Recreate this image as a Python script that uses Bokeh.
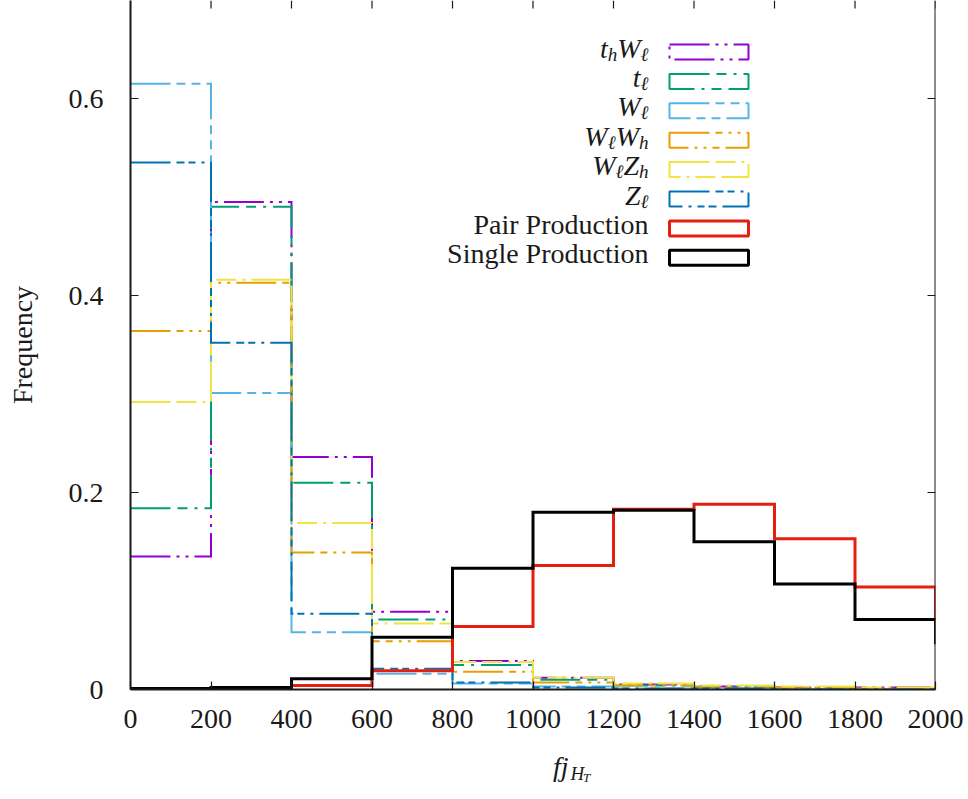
from bokeh.plotting import figure
from bokeh.layouts import column
from bokeh.models import Range1d, FixedTicker, Label, BoxAnnotation, Span
from bokeh.embed import file_html
from bokeh.resources import INLINE

# ---------------- data (bin lower edges; last point = 2000-2200 bin) ----------------
bin_edges = [0, 200, 400, 600, 800, 1000, 1200, 1400, 1600, 1800, 2000]
thWl = [0.135, 0.495, 0.236, 0.079, 0.029, 0.012, 0.005, 0.003, 0.002, 0.002, 0.001]
tl   = [0.184, 0.490, 0.210, 0.071, 0.025, 0.010, 0.004, 0.002, 0.001, 0.001, 0.001]
Wl   = [0.615, 0.301, 0.058, 0.016, 0.006, 0.003, 0.001, 0.001, 0.000, 0.000, 0.000]
WlWh = [0.364, 0.413, 0.139, 0.049, 0.018, 0.007, 0.004, 0.003, 0.002, 0.001, 0.001]
WlZh = [0.292, 0.416, 0.169, 0.067, 0.028, 0.012, 0.006, 0.004, 0.003, 0.002, 0.001]
Zl   = [0.535, 0.352, 0.077, 0.021, 0.007, 0.002, 0.001, 0.001, 0.000, 0.000, 0.000]
pair   = [0.000, 0.000, 0.004, 0.019, 0.064, 0.126, 0.183, 0.188, 0.153, 0.104, 0.070]
single = [0.001, 0.002, 0.011, 0.053, 0.123, 0.180, 0.182, 0.150, 0.107, 0.071, 0.046]

x_ticks = [0, 200, 400, 600, 800, 1000, 1200, 1400, 1600, 1800, 2000]
y_ticks = [0, 0.2, 0.4, 0.6]
y_tick_labels = ["0", "0.2", "0.4", "0.6"]
y_title = "Frequency"

# legend label pieces: (text, role) role: M main italic, S subscript italic, R roman
legend_parts = [
    [("t", "M"), ("h", "S"), ("W", "M"), ("\u2113", "S")],
    [("t", "M"), ("\u2113", "S")],
    [("W", "M"), ("\u2113", "S")],
    [("W", "M"), ("\u2113", "S"), ("W", "M"), ("h", "S")],
    [("W", "M"), ("\u2113", "S"), ("Z", "M"), ("h", "S")],
    [("Z", "M"), ("\u2113", "S")],
    [("Pair Production", "R")],
    [("Single Production", "R")],
]
# x title pieces: fj_{H_T}
x_title_parts = [("fj", 28, 0), ("H", 19, 7), ("T", 13, 11)]

series = [thWl, tl, Wl, WlWh, WlZh, Zl, pair, single]
colors = ["#9400D3", "#009E73", "#56B4E9", "#E69F00", "#F0E442", "#0072B2", "#E51E10", "#000000"]
dashes = ["40 6 3 6 3 6", "40 7 10 7 3 7", "40 6 9 6 9 6", "40 6 7 6 3 6 3 6",
          "40 6 20 6 3 6", "40 6 8 4 7 6 3 6", "solid", "solid"]
widths = [2, 2, 2, 2, 2, 2, 3, 3]

# ---------------- layout ----------------
W = 964
H1, H2 = 750, 49
FL, FR, FB = 130, 935, 689          # frame edges in page pixels
PXY = 985.0                          # pixels per unit of y
FONT = "Liberation Serif"
FS = 28
INK = "#1a1a1a"

def dx(px):
    return (px - FL) * 2000.0 / (FR - FL)

def dy(py):
    return (FB - py) / PXY

y_end = FB / PXY

p = figure(width=W, height=H1, output_backend="svg", toolbar_location=None,
           x_range=Range1d(0, 2000), y_range=Range1d(0, y_end),
           min_border_left=FL, min_border_right=W - FR,
           min_border_bottom=H1 - FB, min_border_top=0,
           background_fill_color="white", border_fill_color="white")
p.outline_line_color = None
p.grid.visible = False

for ax in (p.xaxis[0], p.yaxis[0]):
    ax.axis_line_color = INK
    ax.axis_line_width = 2
    ax.major_tick_in = 8
    ax.major_tick_out = 0
    ax.minor_tick_line_color = None
    ax.major_tick_line_color = INK
    ax.major_tick_line_width = 1.2
    ax.major_label_text_font = FONT
    ax.major_label_text_font_size = f"{FS}px"
    ax.major_label_text_color = INK

p.xaxis.ticker = FixedTicker(ticks=x_ticks)
p.xaxis.major_label_standoff = 20
p.yaxis.ticker = FixedTicker(ticks=y_ticks)
p.yaxis.major_label_overrides = {t: s for t, s in zip(y_ticks, y_tick_labels)}
p.yaxis.major_label_standoff = 27
p.yaxis.axis_label = y_title
p.yaxis.axis_label_text_font = FONT
p.yaxis.axis_label_text_font_size = f"{FS}px"
p.yaxis.axis_label_text_font_style = "normal"
p.yaxis.axis_label_text_color = INK
p.yaxis.axis_label_standoff = 28

# right border and mirrored ticks (right and top edges)
p.add_layout(Span(location=2000, dimension="height", line_color=INK, line_width=2))
tick_dx = 8 * 2000.0 / (FR - FL)
p.segment(x0=[2000 - tick_dx] * len(y_ticks), y0=y_ticks, x1=[2000] * len(y_ticks), y1=y_ticks,
          line_color=INK, line_width=1.2)
p.segment(x0=x_ticks, y0=[y_end] * len(x_ticks), x1=x_ticks,
          y1=[y_end - 8 / PXY] * len(x_ticks), line_color=INK, line_width=1.2)

# ---------------- histograms (steps) ----------------
for vals, c, d, w in zip(series, colors, dashes, widths):
    p.step(x=bin_edges, y=vals, mode="after", line_color=c, line_dash=d,
           line_width=w, line_join="miter")

# ---------------- legend ----------------
text_right = 648
box_l, box_r = 669, 748
row0, row_dy = 51.5, 29.4
em = {"t": 0.278, "h": 0.5, "W": 0.833, "Z": 0.556, "\u2113": 0.42}
SUB = 19
for i, parts in enumerate(legend_parts):
    cy = row0 + row_dy * i
    base = cy - 4
    if parts[0][1] == "R":
        p.add_layout(Label(x=dx(text_right), y=dy(base), text=parts[0][0], text_font=FONT,
                           text_font_size=f"{FS}px", text_align="right",
                           text_baseline="alphabetic", text_color=INK))
    else:
        sizes = [FS if r == "M" else SUB for _, r in parts]
        total = sum(em[t] * s for (t, _), s in zip(parts, sizes))
        x = text_right - total
        for (t, r), s in zip(parts, sizes):
            yb = base if r == "M" else base + 6
            p.add_layout(Label(x=dx(x), y=dy(yb), text=t, text_font=FONT,
                               text_font_style="italic", text_font_size=f"{s}px",
                               text_align="left", text_baseline="alphabetic",
                               text_color=INK))
            x += em[t] * s
    p.add_layout(BoxAnnotation(left=dx(box_l), right=dx(box_r), top=dy(cy - 7.5),
                               bottom=dy(cy + 7.5), fill_color=None, fill_alpha=0,
                               line_color=colors[i], line_alpha=1.0, line_dash=dashes[i],
                               line_width=widths[i], level="overlay"))

# ---------------- x title strip (second figure, pixel coordinates) ----------------
p2 = figure(width=W, height=H2, output_backend="svg", toolbar_location=None,
            x_range=Range1d(0, W), y_range=Range1d(H2, 0),
            x_axis_type=None, y_axis_type=None, min_border=0,
            background_fill_color="white", border_fill_color="white")
p2.outline_line_color = None
p2.grid.visible = False
xpos = [506, 527, 542]
for (t, s, off), xp in zip(x_title_parts, xpos):
    p2.add_layout(Label(x=xp, y=766 - H1 + off, text=t, text_font=FONT,
                        text_font_style="italic", text_font_size=f"{s}px",
                        text_align="left", text_baseline="alphabetic", text_color=INK))

layout = column(p, p2, spacing=0)
open("out.html", "w").write(file_html(layout, INLINE))
